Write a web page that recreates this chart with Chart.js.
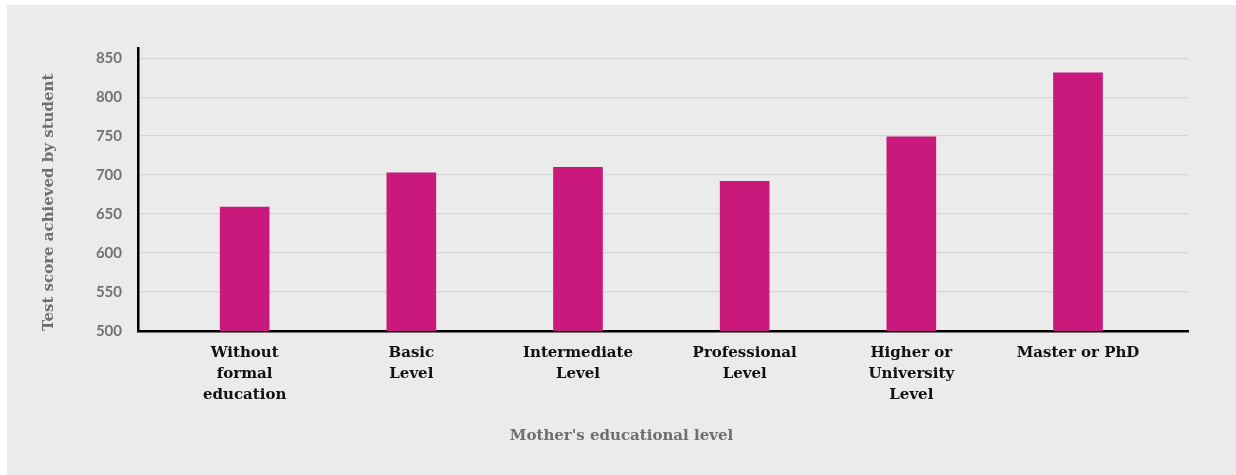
<!DOCTYPE html>
<html>
<head>
<meta charset="utf-8">
<script src="https://cdn.jsdelivr.net/npm/chart.js@4.4.1/dist/chart.umd.min.js"></script>
<style>
  html, body { margin: 0; padding: 0; background: #ffffff; }
  #wrap { position: absolute; left: 7px; top: 5px; width: 1229px; height: 470px; background: #ebebeb; }
  canvas { display: block; }
</style>
</head>
<body>
<div id="wrap"><canvas id="c" width="1229" height="470"></canvas></div>
<script>
const categories = [
  ["Without", "formal", "education"],
  ["Basic", "Level"],
  ["Intermediate", "Level"],
  ["Professional", "Level"],
  ["Higher or", "University", "Level"],
  ["Master or PhD"]
];
const scores = [659, 703, 710, 692, 749, 831];
const yTicks = [500, 550, 600, 650, 700, 750, 800, 850];
const xTitle = "Mother's educational level";
const yTitle = "Test score achieved by student";

const serif = "'DejaVu Serif', serif";

new Chart(document.getElementById('c'), {
  type: 'bar',
  data: {
    datasets: [{
      data: categories.map((c, i) => ({ x: i, y: scores[i] })),
      backgroundColor: '#c9197c',
      barThickness: 49,
      yAxisID: 'y'
    }]
  },
  options: {
    responsive: false,
    animation: false,
    layout: { padding: { top: 43, left: 0, right: 0, bottom: 0 } },
    plugins: {
      legend: { display: false },
      tooltip: { enabled: false },
      title: {
        display: true,
        position: 'bottom',
        text: xTitle,
        color: '#6f6f6f',
        font: { family: serif, size: 15, weight: 'bold', lineHeight: 1.2 },
        padding: { top: 21, bottom: 30 }
      }
    },
    scales: {
      x: {
        type: 'linear',
        offset: false,
        min: -0.64,
        max: 5.66,
        afterBuildTicks: s => { s.ticks = categories.map((c, i) => ({ value: i })); },
        afterFit: s => { s.height = 75; },
        grid: { display: false, drawTicks: false, offset: false },
        border: { display: true, color: '#000000', width: 2.5 },
        ticks: {
          padding: 12,
          color: '#111111',
          font: { family: serif, size: 15, weight: 'bold', lineHeight: 1.4 },
          callback: v => categories[v] || '',
          maxRotation: 0,
          autoSkip: false
        }
      },
      y: {
        type: 'linear',
        position: 'left',
        min: 500,
        max: 863,
        afterBuildTicks: s => { s.ticks = yTicks.map(v => ({ value: v })); },
        afterFit: s => { s.width = 131; },
        grid: { color: '#d6d6d6', lineWidth: 1.2, drawTicks: false },
        border: { display: true, color: '#000000', width: 2.5 },
        ticks: {
          padding: 16,
          color: '#727272',
          font: { family: 'Lato', size: 15, weight: 'bold' }
        },
        title: {
          display: true,
          text: yTitle,
          align: 'start',
          color: '#6f6f6f',
          font: { family: serif, size: 15, weight: 'bold', lineHeight: 1.2 },
          padding: { top: 33, bottom: 0 }
        }
      },
      yRight: {
        type: 'linear',
        position: 'right',
        display: true,
        afterFit: s => { s.width = 48; },
        grid: { display: false, drawTicks: false },
        border: { display: false },
        ticks: { display: false }
      }
    }
  }
});
</script>
</body>
</html>
